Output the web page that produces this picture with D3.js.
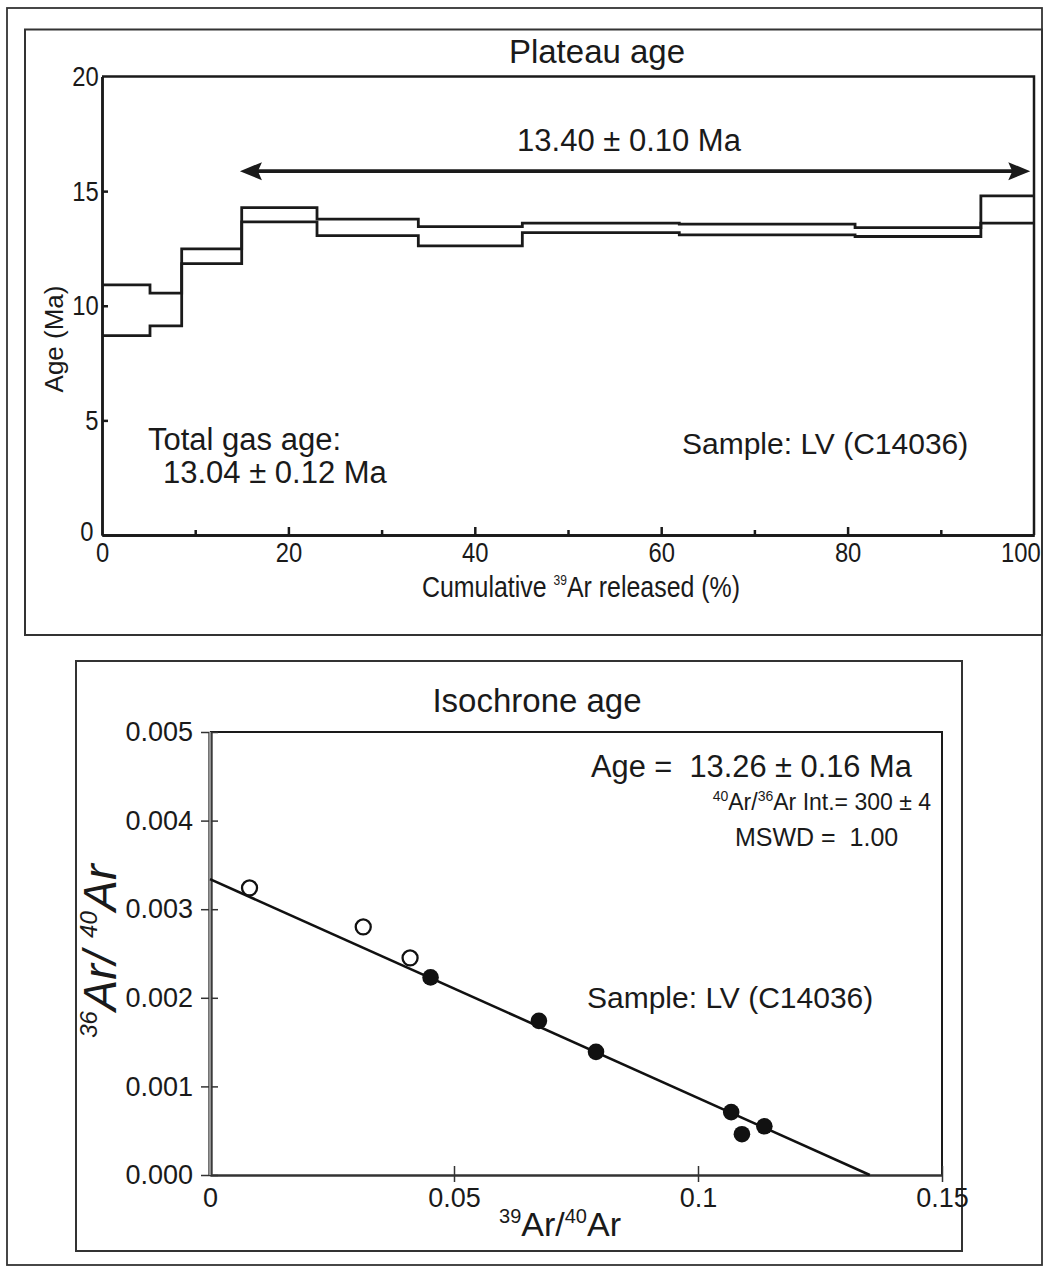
<!DOCTYPE html>
<html>
<head>
<meta charset="utf-8">
<script src="https://cdn.jsdelivr.net/npm/d3@7.9.0/dist/d3.min.js"></script>
<style>
  body { margin: 0; background: #fff; }
  svg text { font-family: "Liberation Sans", Arial, Helvetica, sans-serif; fill: #1a1a1a; white-space: pre; }
</style>
</head>
<body>
<svg id="chart" width="1052" height="1271"></svg>
<script>
// --- step heating spectrum (top) ---
const stepEdges = [0, 5.15, 8.55, 14.99, 23.07, 33.94, 45.1, 61.94, 80.8, 94.3, 100];
const stepHigh = [10.91, 10.55, 12.48, 14.28, 13.78, 13.45, 13.6, 13.56, 13.41, 14.79];
const stepLow = [8.7, 9.12, 11.84, 13.66, 13.06, 12.61, 13.19, 13.09, 13.02, 13.6];
const ageTicks = [0, 5, 10, 15, 20];
const releaseTicks = [0, 20, 40, 60, 80, 100];
const releaseMinor = [10, 30, 50, 70, 90];
const plateauSpan = [14.8, 99.6];
const plateauArrowAge = 15.87;

// --- isochron (bottom) ---
const openX = [0.0081, 0.0314, 0.041];
const openY = [0.00324, 0.0028, 0.00245];
const fillX = [0.0452, 0.0674, 0.0791, 0.1068, 0.109, 0.1136];
const fillY = [0.00223, 0.00174, 0.00139, 0.00071, 0.00046, 0.00055];
const fitX = [0, 0.1352];
const fitY = [0.00334, 0];
const ratioTicksY = [0, 0.001, 0.002, 0.003, 0.004, 0.005];
const ratioTicksX = [0, 0.05, 0.1, 0.15];

const svg = d3.select("#chart");
svg.append("rect").attr("width", 1052).attr("height", 1271).attr("fill", "#fff");

// frames
svg.append("rect").attr("x", 7).attr("y", 8).attr("width", 1035).attr("height", 1257)
  .attr("fill", "none").attr("stroke", "#333").attr("stroke-width", 1.8);
svg.append("rect").attr("x", 25).attr("y", 29.5).attr("width", 1017).attr("height", 605.5)
  .attr("fill", "none").attr("stroke", "#333").attr("stroke-width", 2);
svg.append("rect").attr("x", 76).attr("y", 661).attr("width", 886).attr("height", 590)
  .attr("fill", "none").attr("stroke", "#333").attr("stroke-width", 2);

// ===== top: plateau =====
let x = d3.scaleLinear().domain([0, 100]).range([102, 1034]);
let y = d3.scaleLinear().domain([0, 20]).range([535, 76.5]);

let plat = svg.append("g");

// frame top/right
plat.append("path")
  .attr("d", `M${x(0)},${y(20)}H${x(100)}V${y(0)}`)
  .attr("fill", "none").attr("stroke", "#1a1a1a").attr("stroke-width", 2.5);

let xAxis = plat.append("g").attr("transform", `translate(0,${y(0)})`)
  .call(d3.axisBottom(x).tickValues(releaseTicks).tickSize(0).tickPadding(7).tickSizeOuter(0));
plat.append("g").attr("transform", `translate(0,${y(0)})`)
  .call(d3.axisTop(x).tickValues(releaseTicks.slice(1, -1)).tickSize(8).tickFormat("").tickSizeOuter(0));
plat.append("g").attr("transform", `translate(0,${y(0)})`)
  .call(d3.axisTop(x).tickValues(releaseMinor).tickSize(5).tickFormat("").tickSizeOuter(0));

let yAxis = plat.append("g").attr("transform", `translate(${x(0)},0)`)
  .call(d3.axisLeft(y).tickValues(ageTicks).tickSize(0).tickPadding(4).tickSizeOuter(0));
plat.append("g").attr("transform", `translate(${x(0)},0)`)
  .call(d3.axisRight(y).tickValues([5, 10, 15]).tickSize(6).tickFormat("").tickSizeOuter(0));

plat.selectAll(".domain").attr("stroke", "#1a1a1a").attr("stroke-width", 2.5);
plat.selectAll(".tick line").attr("stroke", "#1a1a1a").attr("stroke-width", 2.5);
plat.selectAll(".tick text").attr("font-size", 28).attr("fill", "#1a1a1a")
  .attr("font-family", null).attr("transform", "scale(0.85,1)");
xAxis.selectAll(".tick text").filter((d) => d === 100).attr("x", -16);
yAxis.selectAll(".tick text").filter((d) => d === 0).attr("x", -10).attr("dy", "0.2em");

// step curves
let stepLine = d3.line()
  .x((d) => x(d[0]))
  .y((d) => y(d[1]))
  .curve(d3.curveStepAfter);
let highPts = stepEdges.map((e, i) => [e, stepHigh[Math.min(i, stepHigh.length - 1)]]);
let lowPts = stepEdges.map((e, i) => [e, stepLow[Math.min(i, stepLow.length - 1)]]);
[highPts, lowPts].forEach((pts) => {
  plat.append("path").attr("d", stepLine(pts))
    .attr("fill", "none").attr("stroke", "#1a1a1a").attr("stroke-width", 2.8)
    .attr("stroke-linejoin", "miter");
});

// plateau arrow
let ax0 = x(plateauSpan[0]), ax1 = x(plateauSpan[1]), ay = y(plateauArrowAge);
plat.append("line").attr("x1", ax0 + 10).attr("x2", ax1 - 10).attr("y1", ay).attr("y2", ay)
  .attr("stroke", "#1a1a1a").attr("stroke-width", 3.8);
plat.append("path").attr("d", `M${ax0},${ay}L${ax0 + 22},${ay - 9}L${ax0 + 18},${ay}L${ax0 + 22},${ay + 9}Z`)
  .attr("fill", "#1a1a1a");
plat.append("path").attr("d", `M${ax1},${ay}L${ax1 - 22},${ay - 9}L${ax1 - 18},${ay}L${ax1 - 22},${ay + 9}Z`)
  .attr("fill", "#1a1a1a");

plat.append("text").attr("x", 597).attr("y", 63).attr("text-anchor", "middle")
  .attr("font-size", 33).text("Plateau age");
plat.append("text").attr("x", 629).attr("y", 151).attr("text-anchor", "middle")
  .attr("font-size", 31).text("13.40 ± 0.10 Ma");
plat.append("text").attr("x", 148).attr("y", 450).attr("font-size", 31).text("Total gas age:");
plat.append("text").attr("x", 163).attr("y", 483).attr("font-size", 31).text("13.04 ± 0.12 Ma");
plat.append("text").attr("x", 682).attr("y", 454).attr("font-size", 30).text("Sample: LV (C14036)");
plat.append("text").attr("transform", "translate(63,339) rotate(-90)").attr("text-anchor", "middle")
  .attr("font-size", 26).text("Age (Ma)");

let xt = plat.append("text").attr("transform", "translate(581,597) scale(0.86,1)")
  .attr("text-anchor", "middle").attr("font-size", 29);
xt.append("tspan").text("Cumulative ");
xt.append("tspan").attr("font-size", 14).attr("dy", -12).text("39");
xt.append("tspan").attr("dy", 12).text("Ar released (%)");

// ===== bottom: isochron =====
let x2 = d3.scaleLinear().domain([0, 0.15]).range([210, 942]);
let y2 = d3.scaleLinear().domain([0, 0.005]).range([1175, 732]);

let iso = svg.append("g");

iso.append("path")
  .attr("d", `M${x2(0)},${y2(0.005)}H${x2(0.15)}V${y2(0)}`)
  .attr("fill", "none").attr("stroke", "#1a1a1a").attr("stroke-width", 2);

let bx = iso.append("g").attr("transform", `translate(0,${y2(0)})`)
  .call(d3.axisBottom(x2).tickValues(ratioTicksX).tickSize(7).tickPadding(6).tickSizeOuter(0)
    .tickFormat((d) => String(d)));
iso.append("g").attr("transform", `translate(0,${y2(0)})`)
  .call(d3.axisTop(x2).tickValues(ratioTicksX.slice(1)).tickSize(9).tickFormat("").tickSizeOuter(0));
bx.selectAll(".tick line").filter((d) => d === 0).remove();

let by = iso.append("g").attr("transform", `translate(${x2(0)},0)`)
  .call(d3.axisLeft(y2).tickValues(ratioTicksY).tickSize(9).tickPadding(8).tickSizeOuter(0)
    .tickFormat(d3.format(".3f")));
iso.append("g").attr("transform", `translate(${x2(0)},0)`)
  .call(d3.axisRight(y2).tickValues(ratioTicksY).tickSize(8).tickFormat("").tickSizeOuter(0));

iso.selectAll(".domain").attr("stroke", "#333").attr("stroke-width", 2);
by.select(".domain").attr("stroke", "#444").attr("stroke-width", 4.5);
iso.append("line").attr("x1", x2(0)).attr("x2", x2(0)).attr("y1", y2(0.005)).attr("y2", y2(0))
  .attr("stroke", "#c8c8c8").attr("stroke-width", 1.3);
iso.selectAll(".tick line").attr("stroke", "#333").attr("stroke-width", 1.5);
iso.selectAll(".tick text").attr("font-size", 27).attr("fill", "#1a1a1a").attr("font-family", null);

// regression line
iso.append("path")
  .attr("d", d3.line().x((d) => x2(d[0])).y((d) => y2(d[1]))(fitX.map((v, i) => [v, fitY[i]])))
  .attr("stroke", "#111").attr("stroke-width", 2.6).attr("fill", "none");

// points
iso.selectAll("circle.open").data(openX.map((v, i) => [v, openY[i]])).join("circle")
  .attr("class", "open").attr("cx", (d) => x2(d[0])).attr("cy", (d) => y2(d[1])).attr("r", 7.5)
  .attr("fill", "#fff").attr("stroke", "#111").attr("stroke-width", 2.3);
iso.selectAll("circle.fill").data(fillX.map((v, i) => [v, fillY[i]])).join("circle")
  .attr("class", "fill").attr("cx", (d) => x2(d[0])).attr("cy", (d) => y2(d[1])).attr("r", 8.3)
  .attr("fill", "#111");

iso.append("text").attr("x", 537).attr("y", 712).attr("text-anchor", "middle")
  .attr("font-size", 33).text("Isochrone age");
iso.append("text").attr("x", 591).attr("y", 777).attr("font-size", 30.8).text("Age =  13.26 ± 0.16 Ma");
let it = iso.append("text").attr("x", 931).attr("y", 810).attr("text-anchor", "end").attr("font-size", 23);
it.append("tspan").attr("font-size", 14).attr("dy", -9).text("40");
it.append("tspan").attr("dy", 9).text("Ar/");
it.append("tspan").attr("font-size", 14).attr("dy", -9).text("36");
it.append("tspan").attr("dy", 9).text("Ar Int.= 300 ± 4");
iso.append("text").attr("x", 735).attr("y", 846).attr("font-size", 25).text("MSWD =  1.00");
iso.append("text").attr("x", 587).attr("y", 1008).attr("font-size", 30).text("Sample: LV (C14036)");

let bxt = iso.append("text").attr("x", 560).attr("y", 1236).attr("text-anchor", "middle").attr("font-size", 34);
bxt.append("tspan").attr("font-size", 20).attr("dy", -13).text("39");
bxt.append("tspan").attr("dy", 13).text("Ar/");
bxt.append("tspan").attr("font-size", 20).attr("dy", -13).text("40");
bxt.append("tspan").attr("dy", 13).text("Ar");

let byt = iso.append("text").attr("transform", "translate(116,951) rotate(-90)")
  .attr("text-anchor", "middle").attr("font-size", 47).attr("font-style", "italic");
byt.append("tspan").attr("font-size", 24).attr("dy", -19).text("36");
byt.append("tspan").attr("dy", 19).text("Ar/ ");
byt.append("tspan").attr("font-size", 24).attr("dy", -19).text("40");
byt.append("tspan").attr("dy", 19).text("Ar");
</script>
</body>
</html>
